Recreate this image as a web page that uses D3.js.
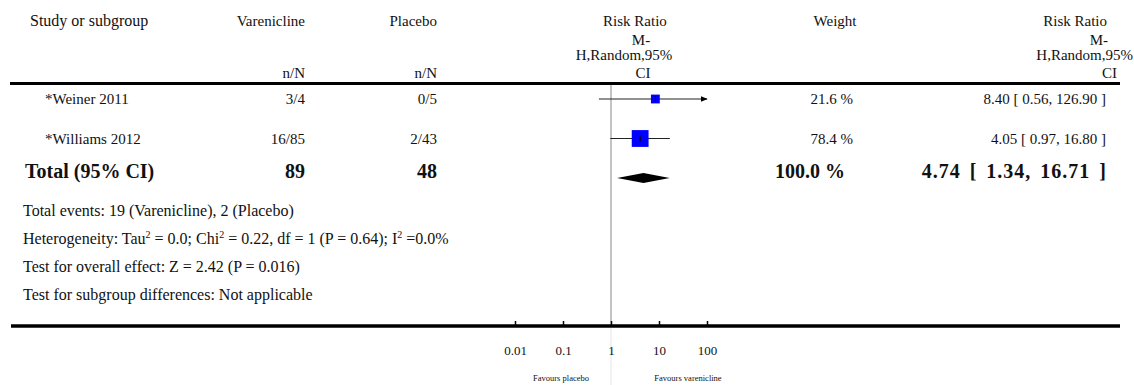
<!DOCTYPE html>
<html>
<head>
<meta charset="utf-8">
<script src="https://cdn.jsdelivr.net/npm/d3@7"></script>
<style>
  body { margin: 0; background: #fff; }
  svg text { font-family: "Liberation Serif", "Times New Roman", serif; fill: #111; }
</style>
</head>
<body>
<div id="chart"></div>
<script>
// study rows
const studies = ["*Weiner 2011", "*Williams 2012"];
const vareEvents = [3, 16];
const vareTotal = [4, 85];
const placEvents = [0, 2];
const placTotal = [5, 43];
const riskRatio = [8.40, 4.05];
const ciLow = [0.56, 0.97];
const ciHigh = [126.90, 16.80];
const weights = [21.6, 78.4];

// pooled result
const totalLabel = "Total (95% CI)";
const totalN = [89, 48];
const totalRR = [4.74, 1.34, 16.71];
const totalWeight = 100.0;

const tickValues = [0.01, 0.1, 1, 10, 100];
const favours = ["Favours placebo", "Favours varenicline"];

const W = 1134, H = 385;
const svg = d3.select("#chart").append("svg")
  .attr("width", W).attr("height", H);

const x = d3.scaleLog().domain([0.01, 100]).range([515, 707]);
const y = d3.scalePoint().domain([...studies, "total"]).range([99, 178]);
const side = d3.scaleSqrt().domain([0, 100]).range([0, 19]);

const fmt = d3.format(".2f");

// ---- headers
const hdr = svg.append("g").style("font-size", "15px");
hdr.append("text").attr("x", 30).attr("y", 26).style("font-size", "16px").text("Study or subgroup");
hdr.append("text").attr("x", 305).attr("y", 26).attr("text-anchor", "end").text("Varenicline");
hdr.append("text").attr("x", 305).attr("y", 78).attr("text-anchor", "end").text("n/N");
hdr.append("text").attr("x", 437).attr("y", 26).attr("text-anchor", "end").text("Placebo");
hdr.append("text").attr("x", 437).attr("y", 78).attr("text-anchor", "end").text("n/N");
[["Risk Ratio", 635, 26], ["M-", 641, 45], ["H,Random,95%", 624, 60], ["CI", 643, 78]]
  .forEach(([t, cx, cy]) => hdr.append("text").attr("x", cx).attr("y", cy)
    .attr("text-anchor", "middle").text(t));
hdr.append("text").attr("x", 835).attr("y", 26).attr("text-anchor", "middle").text("Weight");
[["Risk Ratio", 1107, 26], ["M-", 1108, 45], ["H,Random,95%", 1133, 60], ["CI", 1117, 78]]
  .forEach(([t, rx, cy]) => hdr.append("text").attr("x", rx).attr("y", cy)
    .attr("text-anchor", "end").text(t));

// top rule
svg.append("line").attr("x1", 10).attr("x2", 1120).attr("y1", 83.5).attr("y2", 83.5)
  .attr("stroke", "#000").attr("stroke-width", 3);

// vertical line of no effect
svg.append("line").attr("x1", x(1)).attr("x2", x(1)).attr("y1", 85).attr("y2", 326)
  .attr("stroke", "#888").attr("stroke-width", 1);
svg.append("line").attr("x1", x(1)).attr("x2", x(1)).attr("y1", 326).attr("y2", H)
  .attr("stroke", "#e6e6e6").attr("stroke-width", 1);

// arrow marker
svg.append("defs").append("marker")
  .attr("id", "arr").attr("viewBox", "0 0 10 10").attr("refX", 9).attr("refY", 5)
  .attr("markerWidth", 6).attr("markerHeight", 6).attr("orient", "auto")
  .append("path").attr("d", "M0,1L10,5L0,9Z").attr("fill", "#000");

// ---- study rows
const rows = svg.append("g").style("font-size", "15px");
studies.forEach((s, i) => {
  const cy = y(s);
  rows.append("text").attr("x", 45).attr("y", cy + 5).text(s);
  rows.append("text").attr("x", 305).attr("y", cy + 5).attr("text-anchor", "end")
    .text(vareEvents[i] + "/" + vareTotal[i]);
  rows.append("text").attr("x", 437).attr("y", cy + 5).attr("text-anchor", "end")
    .text(placEvents[i] + "/" + placTotal[i]);
  rows.append("text").attr("x", 853).attr("y", cy + 5).attr("text-anchor", "end")
    .text(weights[i].toFixed(1) + " %");
  rows.append("text").attr("x", 1106).attr("y", cy + 5).attr("text-anchor", "end")
    .text(`${fmt(riskRatio[i])} [ ${fmt(ciLow[i])}, ${fmt(ciHigh[i])} ]`);

  const [dmin, dmax] = x.domain();
  const hiClip = Math.min(ciHigh[i], dmax);
  const loClip = Math.max(ciLow[i], dmin);
  svg.append("line")
    .attr("x1", x(loClip)).attr("x2", x(hiClip)).attr("y1", cy).attr("y2", cy)
    .attr("stroke", "#222").attr("stroke-width", 1.2)
    .attr("marker-end", ciHigh[i] > dmax ? "url(#arr)" : null);
  const sz = side(weights[i]);
  svg.append("rect")
    .attr("x", x(riskRatio[i]) - sz / 2).attr("y", cy - sz / 2)
    .attr("width", sz).attr("height", sz).attr("fill", "#0000ff");
  svg.append("line")
    .attr("x1", x(riskRatio[i])).attr("x2", x(riskRatio[i]))
    .attr("y1", cy - 3).attr("y2", cy + 3).attr("stroke", "#000").attr("stroke-width", 1);
});

// ---- total row
const ty = y("total");
const tot = svg.append("g").style("font-size", "20px").style("font-weight", "bold");
tot.append("text").attr("x", 25).attr("y", ty).text(totalLabel);
tot.append("text").attr("x", 305).attr("y", ty).attr("text-anchor", "end").text(totalN[0]);
tot.append("text").attr("x", 437).attr("y", ty).attr("text-anchor", "end").text(totalN[1]);
tot.append("text").attr("x", 845).attr("y", ty).attr("text-anchor", "end")
  .text(totalWeight.toFixed(1) + " %");
tot.append("text").attr("x", 1107).attr("y", ty).attr("text-anchor", "end")
  .attr("word-spacing", "3px").attr("letter-spacing", "1px")
  .text(`${fmt(totalRR[0])} [ ${fmt(totalRR[1])}, ${fmt(totalRR[2])} ]`);

svg.append("path")
  .attr("d", `M${x(totalRR[1])},${ty}L${x(totalRR[0])},${ty - 5}L${x(totalRR[2])},${ty}L${x(totalRR[0])},${ty + 5}Z`)
  .attr("fill", "#000");

// ---- footnotes
const foot = svg.append("g").style("font-size", "16px");
foot.append("text").attr("x", 23).attr("y", 216)
  .text("Total events: 19 (Varenicline), 2 (Placebo)");
const het = foot.append("text").attr("x", 23).attr("y", 244);
het.append("tspan").text("Heterogeneity: Tau");
het.append("tspan").attr("dy", -6).style("font-size", "10px").text("2");
het.append("tspan").attr("dy", 6).text(" = 0.0; Chi");
het.append("tspan").attr("dy", -6).style("font-size", "10px").text("2");
het.append("tspan").attr("dy", 6).text(" = 0.22, df = 1 (P = 0.64); I");
het.append("tspan").attr("dy", -6).style("font-size", "10px").text("2");
het.append("tspan").attr("dy", 6).text(" =0.0%");
foot.append("text").attr("x", 23).attr("y", 272)
  .text("Test for overall effect: Z = 2.42 (P = 0.016)");
foot.append("text").attr("x", 23).attr("y", 300)
  .text("Test for subgroup differences: Not applicable");

// ---- axis
svg.append("line").attr("x1", 11).attr("x2", 1120).attr("y1", 326).attr("y2", 326)
  .attr("stroke", "#000").attr("stroke-width", 3.5);
const ax = svg.append("g").attr("transform", "translate(0,326)")
  .call(d3.axisTop(x).tickValues(tickValues).tickSize(5).tickFormat(d => String(d)));
ax.select(".domain").remove();
ax.selectAll(".tick line").attr("stroke", "#000").attr("stroke-width", 1.5);
ax.selectAll(".tick text").remove();
ax.selectAll(".tick").append("text")
  .attr("y", 29).attr("text-anchor", "middle")
  .style("font-size", "13px").style("font-family", "Liberation Serif, serif")
  .text(d => String(d));

svg.append("text").attr("x", 561).attr("y", 381).attr("text-anchor", "middle")
  .style("font-size", "8.5px").text(favours[0]);
svg.append("text").attr("x", 688).attr("y", 381).attr("text-anchor", "middle")
  .style("font-size", "8.5px").text(favours[1]);
</script>
</body>
</html>
